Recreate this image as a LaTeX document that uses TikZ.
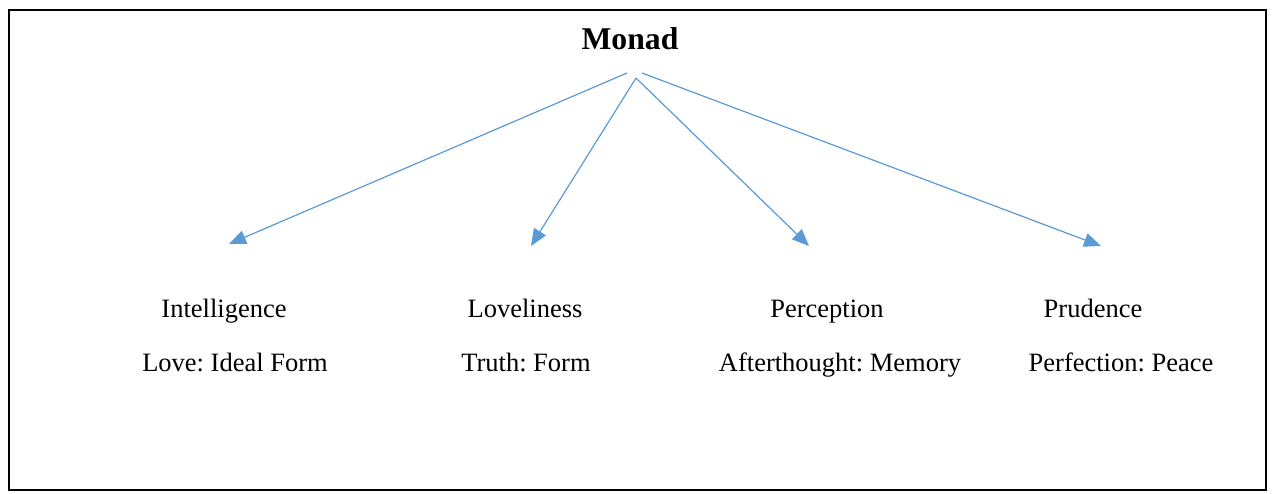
\documentclass[tikz,border=0pt]{standalone}
\usepackage{fontspec}
\setmainfont{Liberation Serif}
\usetikzlibrary{arrows.meta}
\definecolor{arrowblue}{HTML}{5B9BD5}
\frenchspacing
\begin{document}
\begin{tikzpicture}[x=1pt,y=-1pt,
  lbl/.style={inner sep=0pt,anchor=base,font=\fontsize{26.5}{30}\selectfont\frenchspacing},
  title/.style={inner sep=0pt,anchor=base,font=\fontsize{31.7}{36}\selectfont\bfseries},
  conn/.style={draw=arrowblue,line width=1.2pt,-{Triangle[length=17pt,width=14pt]},fill=arrowblue}]
\useasboundingbox (0,0) rectangle (1274,493);
\draw[line width=2pt] (9,10) rectangle (1266,490);
\node[title] (monad) at (630,49) {Monad};
\coordinate (s1) at (627,73);
\coordinate (s2) at (636,78);
\coordinate (s3) at (636,78);
\coordinate (s4) at (642,73);
\coordinate (e1) at (229,244);
\coordinate (e2) at (531,246);
\coordinate (e3) at (809,246);
\coordinate (e4) at (1101,246);
\draw[conn] (s1) -- (e1);
\draw[conn] (s2) -- (e2);
\draw[conn] (s3) -- (e3);
\draw[conn] (s4) -- (e4);
\node[lbl] (a1) at (224,317) {Intelligence};
\node[lbl] (b1) at (235,371) {Love: Ideal Form};
\node[lbl] (a2) at (525,317) {Loveliness};
\node[lbl] (b2) at (526,371) {Truth: Form};
\node[lbl] (a3) at (827,317) {Perception};
\node[lbl] (b3) at (840,371) {Afterthought: Memory};
\node[lbl] (a4) at (1093,317) {Prudence};
\node[lbl] (b4) at (1121,371) {Perfection: Peace};
\end{tikzpicture}
\end{document}
